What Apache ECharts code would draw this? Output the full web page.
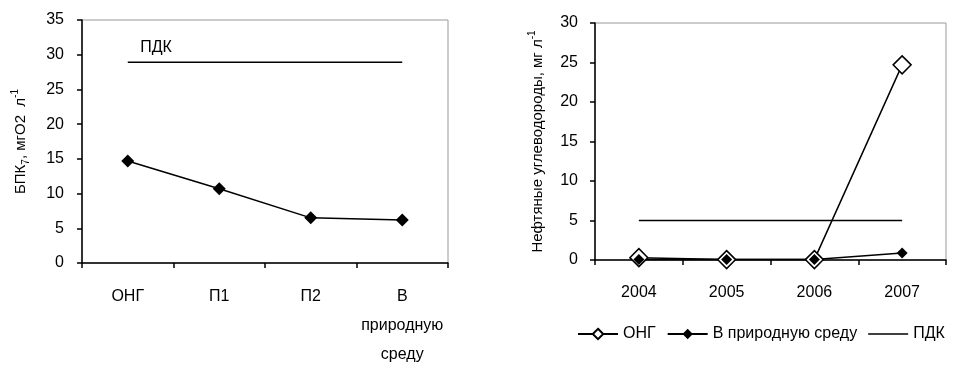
<!DOCTYPE html>
<html>
<head>
<meta charset="utf-8">
<script src="https://cdn.jsdelivr.net/npm/echarts@6/dist/echarts.min.js"></script>
<style>
  html, body { margin: 0; padding: 0; background: #fff; }
  #chart { width: 953px; height: 365px; }
</style>
</head>
<body>
<div id="chart"></div>
<script>
// left chart: БПК7 by sampling point
const bpkCategories = ['ОНГ', 'П1', 'П2', 'В\nприродную\nсреду'];
const bpkValues = [14.7, 10.7, 6.5, 6.2];
const bpkPdk = [28.9, 28.9, 28.9, 28.9];
const bpkTicks = [0, 5, 10, 15, 20, 25, 30, 35];

// right chart: oil hydrocarbons by year
const years = ['2004', '2005', '2006', '2007'];
const ongValues = [0.3, 0.05, 0.05, 24.7];
const natureValues = [0.05, 0.05, 0.05, 0.9];
const oilPdk = [5, 5, 5, 5];
const oilTicks = [0, 5, 10, 15, 20, 25, 30];

const FONT = "'Liberation Sans', Arial, sans-serif";

const chart = echarts.init(document.getElementById('chart'));

const axisLine = { show: true, lineStyle: { color: '#000', width: 1.5 } };
const axisTick = { show: true, length: 5, lineStyle: { color: '#000', width: 1.5 } };

const option = {
    animation: false,
    textStyle: { fontFamily: FONT, color: '#000' },
    grid: [
        { left: 82, top: 20, width: 366, height: 243, outerBoundsMode: 'none', show: true, borderColor: '#999', borderWidth: 1 },
        { left: 595, top: 23, width: 351, height: 237, outerBoundsMode: 'none', show: true, borderColor: '#999', borderWidth: 1 }
    ],
    legend: {
        left: 577,
        top: 326,
        width: 376,
        padding: 0,
        itemWidth: 40,
        itemHeight: 13,
        itemGap: 11,
        textStyle: { fontSize: 16, fontFamily: FONT, color: '#000' },
        data: [
            'ОНГ',
            'В природную среду',
            { name: 'ПДК', icon: 'path://M0,0 L40,0 L40,1.5 L0,1.5 Z' }
        ]
    },
    xAxis: [
        {
            gridIndex: 0,
            type: 'category',
            data: bpkCategories,
            axisLine: axisLine,
            axisTick: axisTick,
            axisLabel: { interval: 0, fontSize: 16, lineHeight: 29, margin: 19, color: '#000' }
        },
        {
            gridIndex: 1,
            type: 'category',
            data: years,
            axisLine: axisLine,
            axisTick: axisTick,
            axisLabel: { interval: 0, fontSize: 16, lineHeight: 29, margin: 18, color: '#000' }
        }
    ],
    yAxis: [
        {
            gridIndex: 0,
            type: 'value',
            min: bpkTicks[0],
            max: bpkTicks[bpkTicks.length - 1],
            interval: 5,
            splitLine: { show: false },
            axisLine: axisLine,
            axisTick: axisTick,
            axisLabel: { fontSize: 16, margin: 18, color: '#000' },
            name: 'БПК{sub|7}, мгО2  л{sup|-1}',
            nameLocation: 'middle',
            nameGap: 50,
            nameTextStyle: {
                fontSize: 15, color: '#000', fontFamily: FONT,
                rich: {
                    sub: { fontSize: 10, padding: [10, 0, 0, 0], fontFamily: FONT },
                    sup: { fontSize: 10, padding: [0, 0, 12, 0], fontFamily: FONT }
                }
            }
        },
        {
            gridIndex: 1,
            type: 'value',
            min: oilTicks[0],
            max: oilTicks[oilTicks.length - 1],
            interval: 5,
            splitLine: { show: false },
            axisLine: axisLine,
            axisTick: axisTick,
            axisLabel: { fontSize: 16, margin: 17, color: '#000' },
            name: 'Нефтяные углеводороды, мг л{sup|-1}',
            nameLocation: 'middle',
            nameGap: 46,
            nameTextStyle: {
                fontSize: 15, color: '#000', fontFamily: FONT,
                rich: {
                    sup: { fontSize: 10, padding: [0, 0, 12, 0], fontFamily: FONT }
                }
            }
        }
    ],
    series: [
        {
            name: 'ПДК БПК',
            type: 'line',
            xAxisIndex: 0,
            yAxisIndex: 0,
            data: bpkPdk,
            symbol: 'none',
            lineStyle: { color: '#000', width: 1.5 },
            markPoint: {
                symbol: 'circle',
                symbolSize: 1,
                itemStyle: { color: 'rgba(0,0,0,0)' },
                label: {
                    show: true,
                    formatter: 'ПДК',
                    position: [13, -22],
                    fontSize: 16,
                    color: '#000',
                    fontFamily: FONT
                },
                data: [{ coord: [0, bpkPdk[0]] }]
            }
        },
        {
            name: 'БПК7',
            type: 'line',
            xAxisIndex: 0,
            yAxisIndex: 0,
            data: bpkValues,
            symbol: 'diamond',
            symbolSize: 13,
            itemStyle: { color: '#000' },
            lineStyle: { color: '#000', width: 1.5 }
        },
        {
            name: 'ОНГ',
            type: 'line',
            xAxisIndex: 1,
            yAxisIndex: 1,
            data: ongValues,
            symbol: 'diamond',
            symbolSize: 18,
            itemStyle: { color: '#fff', borderColor: '#000', borderWidth: 1.5 },
            lineStyle: { color: '#000', width: 1.5 }
        },
        {
            name: 'В природную среду',
            type: 'line',
            xAxisIndex: 1,
            yAxisIndex: 1,
            data: natureValues,
            symbol: 'diamond',
            symbolSize: 11,
            itemStyle: { color: '#000' },
            lineStyle: { color: '#000', width: 1.5 }
        },
        {
            name: 'ПДК',
            type: 'line',
            xAxisIndex: 1,
            yAxisIndex: 1,
            data: oilPdk,
            symbol: 'none',
            itemStyle: { color: '#000' },
            lineStyle: { color: '#000', width: 1.5 }
        }
    ]
};

chart.setOption(option);
</script>
</body>
</html>
